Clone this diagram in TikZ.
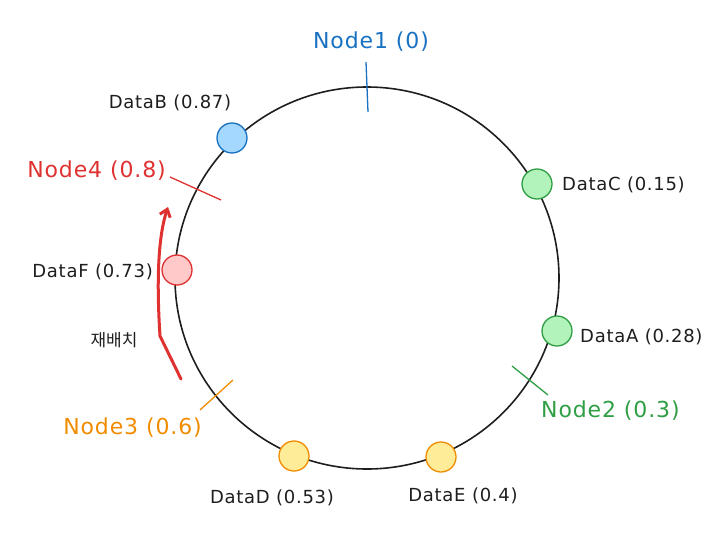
\documentclass[tikz,border=0pt]{standalone}
\usepackage{fontspec}
\setmainfont{DejaVu Sans}[LetterSpace=4]
\newfontfamily\krfont{Noto Sans CJK KR}
\usetikzlibrary{arrows.meta,shapes.geometric}
\definecolor{cblue}{HTML}{1971C2}
\definecolor{fblue}{HTML}{A5D8FF}
\definecolor{cgreen}{HTML}{2F9E44}
\definecolor{fgreen}{HTML}{B2F2BB}
\definecolor{cred}{HTML}{E03131}
\definecolor{fred}{HTML}{FFC9C9}
\definecolor{corange}{HTML}{F08C00}
\definecolor{fyellow}{HTML}{FFEC99}
\definecolor{ink}{HTML}{1E1E1E}
\tikzset{
  dot/.style={circle, minimum size=30pt, inner sep=0pt, line width=1.3pt},
  datalabel/.style={font=\fontsize{18}{20}\selectfont, text=ink, inner sep=0pt},
  nodelabel/.style={font=\fontsize{22}{25}\selectfont, inner sep=0pt},
  tick/.style={line width=1.3pt},
}
\begin{document}
\begin{tikzpicture}[x=1pt,y=-1pt]
\useasboundingbox (0,0) rectangle (723,533);
% ring
\node (ring) [draw=ink, line width=1.6pt, ellipse, minimum width=384pt, minimum height=382pt, inner sep=0pt] at (367,278) {};
% data points
\node[dot, draw=cblue, fill=fblue] (dB) at (232,138) {};
\node[dot, draw=cgreen, fill=fgreen] (dC) at (537,184) {};
\node[dot, draw=cgreen, fill=fgreen] (dA) at (557,331) {};
\node[dot, draw=cred, fill=fred] (dF) at (177,270) {};
\node[dot, draw=corange, fill=fyellow] (dD) at (294,456) {};
\node[dot, draw=corange, fill=fyellow] (dE) at (441,457) {};
% data labels
\node[datalabel] (lB) at (170,103) {DataB (0.87)};
\node[datalabel, anchor=west] (lC) at (562,185) {DataC (0.15)};
\node[datalabel, anchor=west] (lA) at (580,337) {DataA (0.28)};
\node[datalabel, anchor=east] (lF) at (153,272) {DataF (0.73)};
\node[datalabel] (lD) at (272,498) {DataD (0.53)};
\node[datalabel] (lE) at (463,496) {DataE (0.4)};
% server node ticks
\coordinate (n1a) at (366,62); \coordinate (n1b) at (368,112);
\coordinate (n2a) at (512,366); \coordinate (n2b) at (548,395);
\coordinate (n3a) at (200,410); \coordinate (n3b) at (233,380);
\coordinate (n4a) at (170,177); \coordinate (n4b) at (221,200);
\draw[tick, cblue] (n1a) -- (n1b);
\draw[tick, cgreen] (n2a) -- (n2b);
\draw[tick, corange] (n3a) -- (n3b);
\draw[tick, cred] (n4a) -- (n4b);
% server labels
\node[nodelabel, text=cblue] (N1) at (371,42) {Node1 (0)};
\node[nodelabel, text=cgreen, anchor=west] (N2) at (541,411) {Node2 (0.3)};
\node[nodelabel, text=corange, anchor=east] (N3) at (202,428) {Node3 (0.6)};
\node[nodelabel, text=cred, anchor=east] (N4) at (166,171) {Node4 (0.8)};
% relocation arrow
\coordinate (ra) at (181,379);
\coordinate (rb) at (160,336);
\coordinate (rc) at (168,207);
\draw[cred, line width=3pt, line cap=round, line join=round, -{Straight Barb[length=7pt,width=11pt]}]
  (ra) -- (rb) .. controls (157,290) and (157,240) .. (rc);
\node[font=\krfont\fontsize{17}{20}\selectfont, text=ink] (re) at (114,340) {재배치};
\end{tikzpicture}
\end{document}
